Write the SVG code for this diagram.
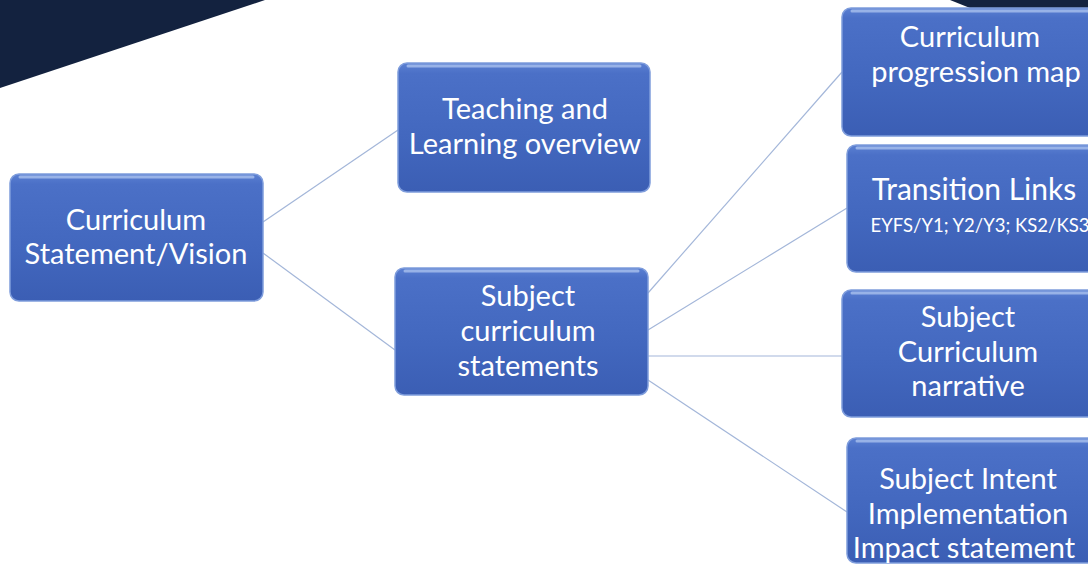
<svg xmlns="http://www.w3.org/2000/svg" width="1088" height="571" viewBox="0 0 1088 571">
<defs>
<linearGradient id="bf" x1="0" y1="0" x2="0" y2="1">
<stop offset="0" stop-color="#5b80d2"/>
<stop offset="0.08" stop-color="#4b70c7"/>
<stop offset="0.6" stop-color="#4267be"/>
<stop offset="1" stop-color="#3b5eb4"/>
</linearGradient>
<style>
.box{fill:url(#bf);stroke:#7f9ddc;stroke-width:1.5}
.hl{fill:none;stroke:#a9c0ee;stroke-width:3;stroke-linecap:round;opacity:0.8}
.t{font-family:Lato,"Open Sans","Liberation Sans",sans-serif;font-size:29px;fill:#ffffff;text-anchor:middle}
.b{font-size:30px}
.s{font-size:18.5px}
.c{stroke:#a3b6d9;stroke-width:1.2;fill:none}
</style>
</defs>
<rect width="1088" height="571" fill="#ffffff"/>
<polygon points="0,0 265,0 0,88" fill="#13223f"/>
<polygon points="950,0 1088,0 1088,10 975,10" fill="#13223f"/>
<g id="connectors">
<line class="c" x1="263" y1="222" x2="398" y2="130"/>
<line class="c" x1="263" y1="253" x2="395" y2="350"/>
<line class="c" x1="648" y1="293" x2="842" y2="72"/>
<line class="c" x1="648" y1="330" x2="847" y2="208"/>
<line class="c" x1="648" y1="356" x2="842" y2="356"/>
<line class="c" x1="648" y1="380" x2="847" y2="512"/>
</g>
<g id="vision">
<rect class="box" x="10" y="174" width="253" height="127" rx="9"/>
<line class="hl" x1="20" y1="177" x2="253" y2="177"/>
<text class="t" x="136" y="230">Curriculum</text>
<text class="t" x="136" y="264">Statement/Vision</text>
</g>
<g id="teaching">
<rect class="box" x="398" y="63" width="252" height="129" rx="9"/>
<line class="hl" x1="408" y1="66" x2="640" y2="66"/>
<text class="t" x="525" y="119">Teaching and</text>
<text class="t" x="525" y="154">Learning overview</text>
</g>
<g id="subject-statements">
<rect class="box" x="395" y="268" width="253" height="127" rx="9"/>
<line class="hl" x1="405" y1="271" x2="638" y2="271"/>
<text class="t" x="528" y="306">Subject</text>
<text class="t" x="528" y="341">curriculum</text>
<text class="t" x="528" y="376">statements</text>
</g>
<g id="progression">
<rect class="box" x="842" y="8" width="256" height="128" rx="9"/>
<line class="hl" x1="852" y1="11" x2="1088" y2="11"/>
<text class="t" x="970" y="47">Curriculum</text>
<text class="t" x="976" y="82">progression map</text>
</g>
<g id="transition">
<rect class="box" x="847" y="145" width="256" height="127" rx="9"/>
<line class="hl" x1="857" y1="148" x2="1088" y2="148"/>
<text class="t b" x="974" y="200">Transition Links</text>
<text class="t s" x="980" y="232">EYFS/Y1; Y2/Y3; KS2/KS3</text>
</g>
<g id="narrative">
<rect class="box" x="842" y="290" width="256" height="127" rx="9"/>
<line class="hl" x1="852" y1="293" x2="1088" y2="293"/>
<text class="t" x="968" y="327">Subject</text>
<text class="t" x="968" y="362">Curriculum</text>
<text class="t" x="968" y="396">narrative</text>
</g>
<g id="intent">
<rect class="box" x="847" y="438" width="256" height="125" rx="9"/>
<line class="hl" x1="857" y1="441" x2="1088" y2="441"/>
<text class="t" x="968" y="489">Subject Intent</text>
<text class="t" x="968" y="524">Implementation</text>
<text class="t" x="964" y="558">Impact statement</text>
</g>
</svg>
